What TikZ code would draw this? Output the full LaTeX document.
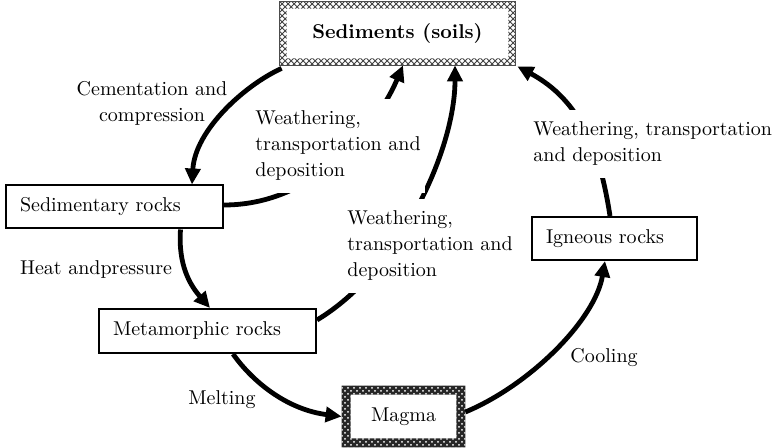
\documentclass[tikz,border=0pt]{standalone}
\usetikzlibrary{arrows.meta,patterns}

\newcommand{\rimfill}[3]{%
  \fill[#3, even odd rule] (#1.south west) rectangle (#1.north east)
    ([shift={(#2,#2)}]#1.south west) rectangle ([shift={(-#2,-#2)}]#1.north east);}

\tikzset{
  rock/.style = {draw, line width=1pt, minimum height=21.5pt, inner xsep=7pt,
                 text width=#1, align=left},
  rimbox/.style = {minimum width=#1, inner sep=0pt},
  lbl/.style = {align=left, inner sep=1pt},
  lblcut/.style = {lbl, fill=white, inner ysep=6pt, inner xsep=2pt},
  flow/.style = {line width=2.4pt, -{Triangle[length=8pt,width=7.5pt]}}
}

\begin{document}
\begin{tikzpicture}[x=0.5pt, y=-0.5pt, font=\fontsize{10}{13}\selectfont]
  \useasboundingbox (0,0) rectangle (778,448);

  % rocks and the two framed boxes
  \node[rimbox=117.5pt, minimum height=31.5pt, font=\fontsize{10}{13}\selectfont\bfseries]
    (soil) at (397.5,33.5) {Sediments (soils)};
  \node[rimbox=61.5pt, minimum height=30.5pt] (mag) at (403.5,416.5) {Magma};
  \node[rock=94.5pt] (sedr) at (114.5,207) {Sedimentary rocks};
  \node[rock=94.5pt, minimum height=22pt] (meta) at (207.5,331) {Metamorphic rocks};
  \node[rock=68.5pt] (ign) at (614.5,238.5) {Igneous rocks};

  \rimfill{soil}{3.5pt}{pattern=crosshatch, pattern color=black!75}
  \draw[line width=0.5pt, black!70] (soil.south west) rectangle (soil.north east);
  \rimfill{mag}{4.5pt}{black!85}
  \rimfill{mag}{4.5pt}{pattern=crosshatch dots, pattern color=white}

  % the cycle
  \draw[flow] ([shift={(1pt,-1.5pt)}]soil.south west)
    .. controls (245,85) and (195,130) .. ([xshift=38.75pt]sedr.north);
  \draw[flow] ([xshift=33pt]sedr.south)
    .. controls (178,265) and (190,285) .. ([xshift=1.25pt]meta.north);
  \draw[flow] ([xshift=12.75pt]meta.south)
    .. controls (255,385) and (290,410) .. (mag.west);
  \draw[flow] ([yshift=2.25pt]mag.east)
    .. controls (530,385) and (595,320) .. ([xshift=-4.75pt]ign.south);
  \draw[flow] ([xshift=-2.25pt]ign.north)
    .. controls (600,150) and (580,100) .. ([shift={(1pt,-0.5pt)}]soil.south east);
  \draw[flow] ([yshift=5.5pt]meta.east)
    .. controls (400,270) and (455,150) .. ([xshift=28.75pt]soil.south);
  \draw[flow] ([yshift=1pt]sedr.east)
    .. controls (320,205) and (380,120) .. ([xshift=2.75pt]soil.south);

  % labels
  \node[lbl, align=center] (cem) at (152,103) {Cementation and\\compression};
  \node[lblcut, anchor=west] (wsr) at (251,146) {Weathering,\\transportation and\\deposition};
  \node[lbl] (heat) at (96,270) {Heat andpressure};
  \node[lblcut, anchor=west] (wmr) at (343,246) {Weathering,\\transportation and\\deposition};
  \node[lblcut, anchor=west] (wir) at (529,144) {Weathering, transportation\\and deposition};
  \node[lbl] (melt) at (222,400) {Melting};
  \node[lbl] (cool) at (604,358) {Cooling};
\end{tikzpicture}
\end{document}
